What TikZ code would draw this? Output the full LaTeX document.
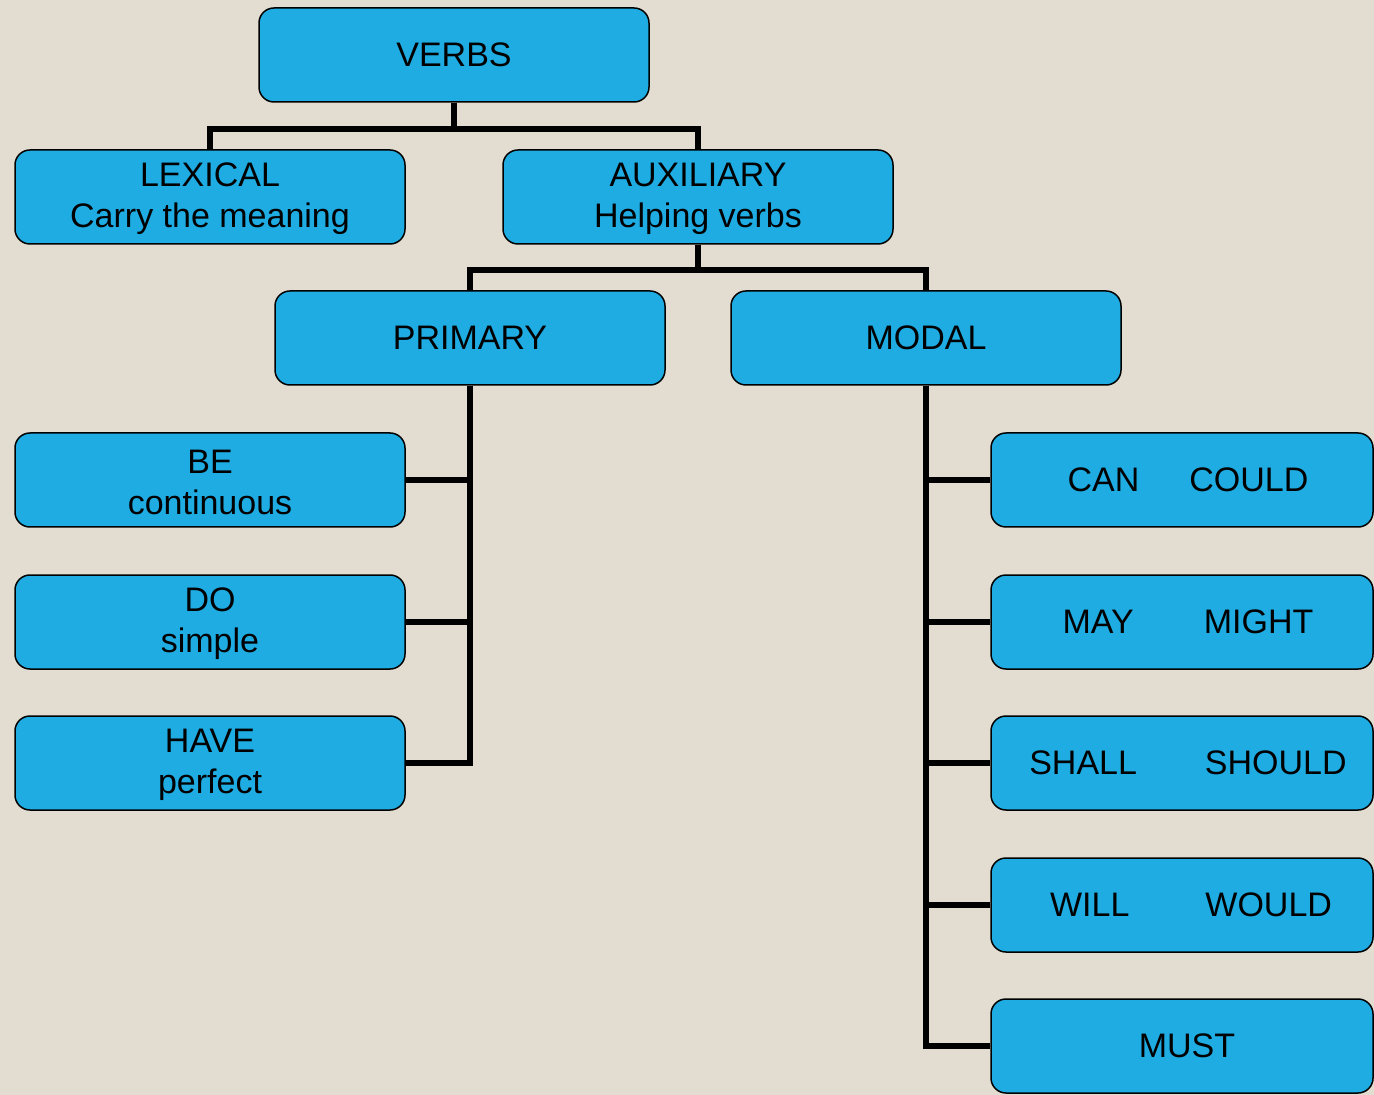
\documentclass[tikz,border=0pt]{standalone}
\usepackage{fontspec}
\setmainfont{Liberation Sans}
\definecolor{bg}{HTML}{E3DDD1}
\definecolor{boxblue}{HTML}{1EACE3}
\begin{document}
\begin{tikzpicture}[x=0.5pt,y=-0.5pt,
  vbox/.style={draw=black, line width=0.75pt, fill=boxblue, rounded corners=7.5pt,
    minimum width=195pt, minimum height=47pt, inner sep=0pt, align=center,
    font=\fontsize{17}{20.5}\selectfont},
  rbox/.style={vbox, minimum width=191pt},
  conn/.style={line width=3pt, draw=black}]
\fill[bg] (0,0) rectangle (1374,1095);
\useasboundingbox (0,0) rectangle (1374,1095);
\node[vbox] (verbs) at (454,55) {VERBS};
\node[vbox] (lex) at (210,197) {\rule{0pt}{14pt}LEXICAL\\Carry the meaning};
\node[vbox] (aux) at (698,197) {\rule{0pt}{14pt}AUXILIARY\\Helping verbs};
\node[vbox] (prim) at (470,338) {PRIMARY};
\node[vbox] (modal) at (926,338) {MODAL};
\node[vbox] (be) at (210,480) {\rule{0pt}{14pt}BE\\continuous};
\node[vbox] (do) at (210,622) {\rule{0pt}{14pt}DO\\simple};
\node[vbox] (have) at (210,763) {\rule{0pt}{14pt}HAVE\\perfect};
\node[rbox] (can) at (1182,480) {\hspace{6pt}CAN\hspace{25pt}COULD};
\node[rbox] (may) at (1182,622) {\hspace{6pt}MAY\hspace{35pt}MIGHT};
\node[rbox] (shall) at (1182,763) {\hspace{6pt}SHALL\hspace{34pt}SHOULD};
\node[rbox] (will) at (1182,905) {\hspace{9pt}WILL\hspace{38pt}WOULD};
\node[rbox] (must) at (1182,1046) {\hspace{5pt}MUST};
\draw[conn] (verbs.south) -- ++(0,26) -| (lex.north);
\draw[conn] (verbs.south) -- ++(0,26) -| (aux.north);
\draw[conn] (aux.south) -- ++(0,25) -| (prim.north);
\draw[conn] (aux.south) -- ++(0,25) -| (modal.north);
\draw[conn] (prim.south) |- (be.east);
\draw[conn] (prim.south) |- (do.east);
\draw[conn] (prim.south) |- (have.east);
\draw[conn] (modal.south) |- (can.west);
\draw[conn] (modal.south) |- (may.west);
\draw[conn] (modal.south) |- (shall.west);
\draw[conn] (modal.south) |- (will.west);
\draw[conn] (modal.south) |- (must.west);
\end{tikzpicture}
\end{document}
